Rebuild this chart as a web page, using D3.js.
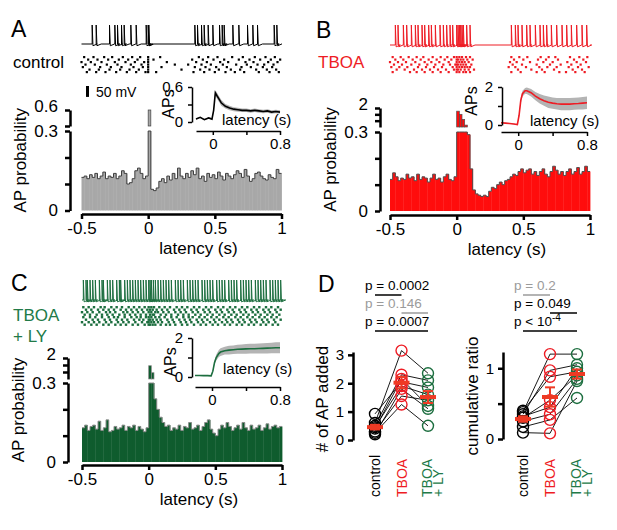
<!DOCTYPE html>
<html>
<head>
<meta charset="utf-8">
<script src="https://cdn.jsdelivr.net/npm/d3@7"></script>
<style>
  body { margin: 0; background: #fff; }
  svg { display: block; }
</style>
</head>
<body>
<svg width="617" height="530"></svg>
<script>
const FONT = '"Liberation Sans", Arial, Helvetica, sans-serif'
const RED = '#ee1c24'
const GREEN = '#1c6e3f'
const GREEN_TEXT = '#227a48'
const GREY_TEXT = '#9b9b9b'

// PSTH, 20 ms bins from -0.5 s to 1 s (AP probability per bin)
const binWidth = 0.02
const histControl = [
  0.125, 0.13, 0.12, 0.135, 0.125, 0.14, 0.12, 0.13, 0.145, 0.12,
  0.13, 0.125, 0.14, 0.12, 0.13, 0.15, 0.14, 0.1, 0.105, 0.12,
  0.15, 0.16, 0.14, 0.12, 0.13, 0.61, 0.08, 0.075, 0.085, 0.11,
  0.12, 0.105, 0.13, 0.115, 0.14, 0.12, 0.16, 0.13, 0.12, 0.14,
  0.125, 0.15, 0.135, 0.16, 0.12, 0.13, 0.11, 0.14, 0.125, 0.135,
  0.12, 0.145, 0.13, 0.115, 0.14, 0.13, 0.12, 0.135, 0.15, 0.14,
  0.125, 0.155, 0.13, 0.11, 0.12, 0.14, 0.145, 0.13, 0.12, 0.115,
  0.135, 0.125, 0.12, 0.155, 0.14]
const histTboa = [
  0.12, 0.145, 0.13, 0.115, 0.125, 0.12, 0.14, 0.125, 0.13, 0.115,
  0.14, 0.12, 0.13, 0.125, 0.11, 0.125, 0.14, 0.12, 0.125, 0.11,
  0.13, 0.14, 0.12, 0.115, 0.13, 1.75, 1.5, 1.1, 0.65, 0.29,
  0.16, 0.08, 0.065, 0.06, 0.055, 0.06, 0.055, 0.075, 0.09, 0.085,
  0.1, 0.11, 0.1, 0.115, 0.12, 0.13, 0.14, 0.135, 0.15, 0.16,
  0.145, 0.155, 0.16, 0.14, 0.15, 0.135, 0.15, 0.16, 0.14, 0.13,
  0.15, 0.17, 0.155, 0.14, 0.15, 0.135, 0.15, 0.16, 0.14, 0.15,
  0.165, 0.14, 0.15, 0.17, 0.15]
const histTboaLy = [
  0.13, 0.14, 0.12, 0.135, 0.14, 0.125, 0.155, 0.12, 0.13, 0.16,
  0.115, 0.12, 0.135, 0.125, 0.13, 0.14, 0.12, 0.135, 0.13, 0.14,
  0.12, 0.135, 0.125, 0.115, 0.13, 1.45, 0.95, 0.24, 0.2, 0.17,
  0.15, 0.135, 0.14, 0.12, 0.13, 0.125, 0.14, 0.12, 0.135, 0.13,
  0.15, 0.125, 0.13, 0.14, 0.12, 0.135, 0.15, 0.16, 0.125, 0.11,
  0.1, 0.125, 0.14, 0.13, 0.15, 0.135, 0.12, 0.13, 0.14, 0.125,
  0.15, 0.13, 0.12, 0.14, 0.125, 0.13, 0.14, 0.12, 0.13, 0.145,
  0.125, 0.135, 0.14, 0.13, 0.135]

// inset: cumulative APs added vs latency (mean and SEM)
const insetTime = [-0.2, -0.15, -0.1, -0.05, -0.01, 0.01, 0.03, 0.05, 0.08, 0.1, 0.15, 0.2,
  0.25, 0.3, 0.35, 0.4, 0.45, 0.5, 0.55, 0.6, 0.65, 0.7, 0.75, 0.8]
const insetControl = [0.05, 0.08, 0.04, 0.07, 0.05, 0.2, 0.5, 0.45, 0.38, 0.33, 0.27, 0.24,
  0.22, 0.21, 0.2, 0.2, 0.19, 0.2, 0.19, 0.18, 0.19, 0.17, 0.18, 0.17]
const insetControlErr = [0.01, 0.01, 0.01, 0.01, 0.01, 0.03, 0.05, 0.05, 0.05, 0.05, 0.04, 0.04,
  0.035, 0.035, 0.03, 0.03, 0.03, 0.03, 0.03, 0.03, 0.03, 0.03, 0.03, 0.03]
const insetTboa = [0.12, 0.1, 0.08, 0.05, 0.02, 0.5, 1.3, 1.65, 1.8, 1.8, 1.7, 1.52,
  1.38, 1.28, 1.2, 1.15, 1.12, 1.1, 1.1, 1.1, 1.12, 1.13, 1.15, 1.17]
const insetTboaErr = [0.02, 0.02, 0.02, 0.02, 0.02, 0.08, 0.15, 0.15, 0.15, 0.17, 0.2, 0.22,
  0.25, 0.27, 0.3, 0.3, 0.3, 0.32, 0.32, 0.32, 0.32, 0.32, 0.33, 0.33]
const insetTboaLy = [0.08, 0.08, 0.07, 0.07, 0.06, 0.3, 0.75, 1.0, 1.2, 1.28, 1.35, 1.38,
  1.4, 1.42, 1.43, 1.44, 1.45, 1.45, 1.46, 1.47, 1.48, 1.49, 1.5, 1.5]
const insetTboaLyErr = [0.02, 0.02, 0.02, 0.02, 0.02, 0.05, 0.1, 0.15, 0.18, 0.2, 0.2, 0.22,
  0.22, 0.23, 0.24, 0.25, 0.25, 0.25, 0.26, 0.26, 0.27, 0.27, 0.28, 0.28]

// example traces: spike times (s)
const spikesControl = [-0.42, -0.39, -0.29, -0.25, -0.23, -0.2, -0.18, -0.13, -0.09, -0.015, 0.0, 0.005,
  0.35, 0.37, 0.4, 0.42, 0.45, 0.485, 0.535, 0.555, 0.57, 0.635, 0.68, 0.745, 0.785, 0.82, 0.945, 0.965]
const spikesTboa = [-0.46, -0.44, -0.4, -0.375, -0.34, -0.31, -0.29, -0.26, -0.24, -0.21, -0.19, -0.16,
  -0.125, -0.1, -0.075, -0.05, -0.03, 0.0, 0.01, 0.02, 0.03, 0.04, 0.05, 0.075, 0.1,
  0.41, 0.44, 0.46, 0.49, 0.525, 0.55, 0.59, 0.625, 0.65, 0.675, 0.71, 0.75, 0.79, 0.825, 0.86, 0.9, 0.94, 0.975]
const spikesTboaLy = [-0.49, -0.47, -0.46, -0.44, -0.42, -0.4, -0.37, -0.35, -0.34, -0.31, -0.29, -0.27,
  -0.24, -0.22, -0.21, -0.18, -0.16, -0.14, -0.12, -0.1, -0.08, -0.06, -0.04, -0.02, 0.0, 0.01,
  0.02, 0.035, 0.05, 0.07, 0.09, 0.11, 0.13, 0.15, 0.17, 0.2, 0.22, 0.24, 0.26, 0.29, 0.31, 0.33,
  0.35, 0.37, 0.4, 0.42, 0.44, 0.46, 0.48, 0.51, 0.53, 0.55, 0.57, 0.6, 0.62, 0.64, 0.66, 0.69,
  0.71, 0.73, 0.75, 0.77, 0.8, 0.82, 0.84, 0.86, 0.88, 0.91, 0.93, 0.95, 0.97, 0.99]

// rasters: spike times per trial (s)
const rasterControl = [
  [-0.48, -0.41, -0.33, -0.27, -0.19, -0.12, -0.06, 0.0, 0.09, 0.38, 0.45, 0.52, 0.63, 0.71, 0.8, 0.88, 0.95],
  [-0.45, -0.38, -0.3, -0.22, -0.15, -0.08, 0.0, 0.04, 0.33, 0.41, 0.49, 0.57, 0.68, 0.76, 0.84, 0.92, 0.99],
  [-0.5, -0.43, -0.35, -0.25, -0.17, -0.1, -0.03, 0.0, 0.14, 0.36, 0.44, 0.54, 0.6, 0.73, 0.79, 0.9, 0.97],
  [-0.47, -0.4, -0.31, -0.23, -0.13, -0.05, 0.0, 0.2, 0.3, 0.4, 0.47, 0.56, 0.66, 0.74, 0.82, 0.87, 0.94],
  [-0.49, -0.36, -0.28, -0.2, -0.11, -0.04, 0.0, 0.1, 0.35, 0.43, 0.51, 0.59, 0.7, 0.77, 0.86, 0.93],
  [-0.44, -0.37, -0.29, -0.21, -0.14, -0.07, 0.0, 0.25, 0.39, 0.46, 0.53, 0.62, 0.69, 0.81, 0.89, 0.96],
  [-0.46, -0.39, -0.32, -0.24, -0.16, -0.09, -0.02, 0.0, 0.06, 0.34, 0.42, 0.5, 0.58, 0.65, 0.72, 0.83, 0.91, 0.98]]
const rasterTboa = [
  [-0.48, -0.42, -0.36, -0.3, -0.25, -0.18, -0.12, -0.07, -0.02, 0.0, 0.02, 0.04, 0.07, 0.1, 0.41, 0.47, 0.53, 0.63, 0.69, 0.74, 0.85, 0.92, 0.98],
  [-0.46, -0.4, -0.33, -0.27, -0.21, -0.15, -0.09, -0.04, 0.0, 0.01, 0.03, 0.05, 0.08, 0.12, 0.43, 0.5, 0.61, 0.67, 0.76, 0.88, 0.95],
  [-0.5, -0.44, -0.38, -0.31, -0.24, -0.19, -0.13, -0.06, 0.0, 0.02, 0.04, 0.06, 0.09, 0.4, 0.45, 0.55, 0.65, 0.72, 0.83, 0.9, 0.97],
  [-0.47, -0.41, -0.34, -0.28, -0.22, -0.16, -0.1, -0.05, -0.01, 0.0, 0.01, 0.03, 0.05, 0.07, 0.11, 0.42, 0.49, 0.6, 0.7, 0.78, 0.86, 0.93],
  [-0.49, -0.43, -0.37, -0.29, -0.23, -0.17, -0.11, -0.03, 0.0, 0.02, 0.04, 0.06, 0.08, 0.1, 0.39, 0.44, 0.52, 0.62, 0.68, 0.75, 0.84, 0.91, 0.99],
  [-0.45, -0.39, -0.32, -0.26, -0.2, -0.14, -0.08, -0.02, 0.0, 0.01, 0.03, 0.06, 0.09, 0.13, 0.46, 0.56, 0.64, 0.73, 0.87, 0.94],
  [-0.48, -0.35, -0.3, -0.24, -0.18, -0.12, -0.06, 0.0, 0.02, 0.05, 0.07, 0.1, 0.41, 0.48, 0.6, 0.66, 0.77, 0.82, 0.89, 0.96]]
const rasterTboaLy = [
  [-0.49, -0.45, -0.41, -0.36, -0.33, -0.28, -0.24, -0.2, -0.15, -0.11, -0.07, -0.03, 0, 0.02, 0.04, 0.08, 0.12, 0.16, 0.21, 0.25, 0.29, 0.34, 0.38, 0.43, 0.47, 0.52, 0.56, 0.61, 0.65, 0.7, 0.74, 0.79, 0.83, 0.88, 0.92, 0.97],
  [-0.47, -0.43, -0.38, -0.34, -0.3, -0.26, -0.21, -0.17, -0.13, -0.09, -0.05, -0.01, 0.01, 0.03, 0.06, 0.1, 0.14, 0.19, 0.23, 0.27, 0.32, 0.36, 0.41, 0.45, 0.5, 0.54, 0.59, 0.63, 0.68, 0.72, 0.77, 0.81, 0.86, 0.9, 0.95, 0.99],
  [-0.5, -0.46, -0.42, -0.37, -0.32, -0.29, -0.25, -0.19, -0.16, -0.12, -0.08, -0.04, 0, 0.02, 0.05, 0.07, 0.11, 0.15, 0.2, 0.24, 0.28, 0.33, 0.37, 0.42, 0.46, 0.51, 0.55, 0.6, 0.64, 0.69, 0.73, 0.78, 0.82, 0.87, 0.91, 0.96],
  [-0.48, -0.44, -0.39, -0.35, -0.31, -0.27, -0.22, -0.18, -0.14, -0.1, -0.06, -0.02, 0.01, 0.03, 0.04, 0.09, 0.13, 0.17, 0.22, 0.26, 0.3, 0.35, 0.39, 0.44, 0.48, 0.53, 0.57, 0.62, 0.66, 0.71, 0.75, 0.8, 0.84, 0.89, 0.93, 0.98],
  [-0.49, -0.44, -0.4, -0.35, -0.3, -0.26, -0.23, -0.18, -0.13, -0.09, -0.06, -0.02, 0, 0.02, 0.05, 0.08, 0.12, 0.17, 0.21, 0.26, 0.3, 0.33, 0.38, 0.42, 0.47, 0.51, 0.56, 0.6, 0.65, 0.69, 0.74, 0.78, 0.83, 0.87, 0.92, 0.96],
  [-0.47, -0.42, -0.38, -0.33, -0.29, -0.24, -0.2, -0.16, -0.11, -0.07, -0.04, 0, 0.01, 0.03, 0.06, 0.09, 0.14, 0.18, 0.23, 0.27, 0.31, 0.36, 0.4, 0.44, 0.49, 0.53, 0.58, 0.62, 0.67, 0.71, 0.76, 0.8, 0.85, 0.89, 0.94, 0.99],
  [-0.5, -0.45, -0.41, -0.37, -0.32, -0.28, -0.23, -0.19, -0.15, -0.1, -0.05, -0.01, 0, 0.02, 0.04, 0.07, 0.1, 0.15, 0.19, 0.24, 0.28, 0.32, 0.37, 0.41, 0.46, 0.5, 0.55, 0.59, 0.63, 0.68, 0.72, 0.77, 0.81, 0.86, 0.9, 0.95],
  [-0.48, -0.43, -0.39, -0.34, -0.3, -0.25, -0.21, -0.17, -0.12, -0.08, -0.03, 0, 0.01, 0.03, 0.05, 0.09, 0.13, 0.16, 0.2, 0.25, 0.29, 0.34, 0.39, 0.43, 0.48, 0.52, 0.57, 0.61, 0.66, 0.7, 0.75, 0.79, 0.84, 0.88, 0.93, 0.97]]

// panel D: one value per cell, in the same cell order for each condition
const conditions = ['control', 'TBOA', 'TBOA + LY']
const apAddedControl = [0.92, 0.6, 0.5, 0.45, 0.4, 0.3, 0.25, 0.2]
const apAddedTboa = [2.05, 3.15, 2.3, 1.9, 2.15, 1.55, 1.25, 1.8]
const apAddedTboaLy = [1.85, 2.35, 2.1, 1.6, 1.2, 1.4, 0.5, 1.1]
const ratioControl = [0.38, 0.35, 0.4, 0.3, 0.32, 0.25, 0.17, 0.09]
const ratioTboa = [1.2, 0.97, 0.88, 0.55, 0.45, 0.35, 0.27, 0.08]
const ratioTboaLy = [1.2, 1.05, 0.95, 0.9, 1.0, 0.85, 0.58, 0.82]
const pApAdded = [['p = 0.0002', 0, 1, false], ['p = 0.146', 1, 2, true], ['p = 0.0007', 0, 2, false]]
const pRatio = [['p = 0.2', 0, 1, true], ['p = 0.049', 1, 2, false], ['p < 10', 0, 2, false, '-4']]

const svg = d3.select('svg').attr('font-family', FONT)

function styleAxis(sel, sw, fs) {
  sel.attr('font-size', fs).attr('font-family', FONT)
  sel.select('.domain').attr('stroke-width', sw)
  sel.selectAll('.tick line').attr('stroke-width', sw)
  sel.selectAll('.tick text').attr('fill', '#000')
}

function text(x, y, str, size, color, anchor) {
  return svg.append('text').attr('x', x).attr('y', y).text(str)
    .attr('font-size', size).attr('fill', color || '#000').attr('text-anchor', anchor || 'start')
}

function vText(x, y, str, size, color, anchor) {
  return svg.append('text').attr('transform', `translate(${x},${y}) rotate(-90)`).text(str)
    .attr('font-size', size).attr('fill', color || '#000').attr('text-anchor', anchor || 'middle')
}

// histogram with a broken y axis
function drawHist(h) {
  const g = svg.append('g')
  const x = d3.scaleLinear().domain([-0.5, 1]).range([h.x0, h.x1])
  const yLo = d3.scaleLinear().domain([0, 0.3]).range([h.base, h.brk])
  const yHi = d3.scaleLinear().domain(h.hiDomain).range(h.hiRange).clamp(true)
  const bins = h.values.map((v, i) => ({ t: -0.5 + i * binWidth, v }))
  const bw = x(binWidth) - x(0)
  const lo = v => yLo(Math.min(v, 0.3))

  g.selectAll('.lo').data(bins).join('rect').attr('class', 'lo')
    .attr('x', d => x(d.t)).attr('width', bw + 0.4)
    .attr('y', d => lo(d.v)).attr('height', d => h.base - lo(d.v))
    .attr('fill', h.fill)
  g.append('path')
    .datum(bins.concat([{ t: 1, v: bins[bins.length - 1].v }]))
    .attr('d', d3.line().curve(d3.curveStepAfter).x(d => x(d.t)).y(d => lo(d.v)))
    .attr('fill', 'none').attr('stroke', h.edge).attr('stroke-width', 1)
  g.selectAll('.hi').data(bins.filter(d => d.v > 0.3)).join('rect').attr('class', 'hi')
    .attr('x', d => x(d.t)).attr('width', bw)
    .attr('y', d => yHi(d.v)).attr('height', d => h.hiRange[0] - yHi(d.v))
    .attr('fill', h.fill).attr('stroke', h.edge).attr('stroke-width', 0.7)

  g.append('g').attr('transform', `translate(0,${h.axisY})`)
    .call(d3.axisBottom(x).tickValues([-0.5, 0, 0.5, 1]).tickFormat(d => String(d))
      .tickSize(5).tickSizeOuter(0).tickPadding(3))
    .call(styleAxis, 2.5, 17)
  g.append('g').attr('transform', `translate(${h.axisX},0)`)
    .call(d3.axisLeft(yLo).tickValues([0, 0.1, 0.2, 0.3])
      .tickFormat(d => d === 0 ? '0' : d === 0.3 ? '0.3' : '')
      .tickSize(5).tickSizeOuter(0).tickPadding(7))
    .call(styleAxis, 2.5, 17)
  g.append('g').attr('transform', `translate(${h.axisX},0)`)
    .call(d3.axisLeft(yHi).tickValues(h.hiTicks)
      .tickFormat(d => d === h.hiDomain[1] ? String(d) : '')
      .tickSize(5).tickSizeOuter(0).tickPadding(7))
    .call(styleAxis, 2.5, 17)
    .selectAll('.tick text').attr('dy', '0.1em')

  vText(h.axisX - 44, (h.base + h.hiRange[1]) / 2, 'AP probability', 17)
  text(h.x0 + 117, h.axisY + 40, 'latency (s)', 17, '#000', 'middle')
  return x
}

function drawInset(s) {
  const g = svg.append('g')
  const x = d3.scaleLinear().domain([-0.2, 0.8]).range(s.xRange)
  const y = d3.scaleLinear().domain(s.yDomain).range(s.yRange)
  const pts = insetTime.map((t, i) => ({ t, m: s.mean[i], e: s.err[i] }))
  g.append('path').datum(pts)
    .attr('d', d3.area().x(d => x(d.t)).y0(d => y(d.m - d.e)).y1(d => y(d.m + d.e)))
    .attr('fill', '#b4b4b4')
  g.append('path').datum(pts)
    .attr('d', d3.line().x(d => x(d.t)).y(d => y(d.m)))
    .attr('fill', 'none').attr('stroke', s.color).attr('stroke-width', 1.6)

  g.append('g').attr('transform', `translate(${s.axisX},0)`)
    .call(d3.axisLeft(y).tickValues(s.yTicks)
      .tickFormat(d => d === s.yTicks[1] ? '' : String(d))
      .tickSize(4).tickSizeOuter(0).tickPadding(5))
    .call(styleAxis, 1.5, 15)
  g.append('g').attr('transform', `translate(0,${s.axisY})`)
    .call(d3.axisBottom(x).tickValues([0, 0.4, 0.8])
      .tickFormat(d => d === 0.4 ? '' : String(d))
      .tickSize(4).tickSizeOuter(0).tickPadding(3))
    .call(styleAxis, 1.5, 15)

  vText(s.apsX, s.apsY, 'APs', 16)
  text(s.latX, s.latY, 'latency (s)', 15)
}

// spikes drawn from a resting level, with a short after-hyperpolarisation
function drawTrace(x, spikes, v, color) {
  const rest = v(-62), peak = v(25), ahp = v(-70)
  let d = `M${x(-0.5)},${rest}`
  spikes.forEach(t => {
    const px = x(t)
    d += `L${px},${rest}L${px},${peak}L${px + 0.8},${ahp}L${px + 5},${rest}`
  })
  d += `L${x(1)},${rest}`
  svg.append('path').attr('d', d).attr('fill', 'none')
    .attr('stroke', color).attr('stroke-width', 1).attr('stroke-linejoin', 'bevel')
}

function drawRaster(x, rows, top, step, size, color) {
  const dots = rows.flatMap((r, i) => r.map(t => ({ t, i })))
  svg.append('g').selectAll('rect').data(dots).join('rect')
    .attr('x', d => x(d.t) - size / 2).attr('y', d => top + d.i * step)
    .attr('width', size).attr('height', size).attr('fill', color)
}

function drawScatter(p) {
  const g = svg.append('g')
  const x = d3.scalePoint().domain(conditions).range(p.xRange)
  const y = d3.scaleLinear().domain(p.yDomain).range(p.yRange)
  const colors = ['#000', RED, GREEN]
  const cells = p.data[0].map((_, i) => p.data.map((vals, j) => ({ c: conditions[j], v: vals[i] })))

  g.selectAll('.pair').data(cells).join('path')
    .attr('d', d3.line().x(e => x(e.c)).y(e => y(e.v)))
    .attr('fill', 'none').attr('stroke', '#000').attr('stroke-width', 0.9)
  p.data.forEach((vals, j) => {
    g.append('g').selectAll('circle').data(vals).join('circle')
      .attr('cx', x(conditions[j])).attr('cy', d => y(d)).attr('r', 5.5)
      .attr('fill', 'none').attr('stroke', colors[j]).attr('stroke-width', 1.4)
  })
  p.data.forEach((vals, j) => {
    const m = d3.mean(vals), se = d3.deviation(vals) / Math.sqrt(vals.length), cx = x(conditions[j])
    g.append('line').attr('x1', cx).attr('x2', cx).attr('y1', y(m - se)).attr('y2', y(m + se))
      .attr('stroke', '#ee3a24').attr('stroke-width', 2)
    ;[m - se, m + se].forEach(v => g.append('line').attr('x1', cx - 5).attr('x2', cx + 5)
      .attr('y1', y(v)).attr('y2', y(v)).attr('stroke', '#ee3a24').attr('stroke-width', 2))
    g.append('rect').attr('x', cx - 8).attr('y', y(m) - 2).attr('width', 16).attr('height', 4)
      .attr('fill', '#ee3a24')
  })

  g.append('g').attr('transform', `translate(${p.axisX},0)`)
    .call(d3.axisLeft(y).tickValues(p.ticks).tickFormat(d => p.labels.includes(d) ? String(d) : '')
      .tickSize(5).tickSizeOuter(0).tickPadding(4))
    .call(styleAxis, 2.5, 15)
  vText(p.axisX - 25, p.labelY, p.label, 17)

  // condition labels, rotated
  const lines = [['control'], ['TBOA'], ['TBOA', '+ LY']]
  lines.forEach((ls, j) => ls.forEach((s, k) => {
    const bx = x(conditions[j]) + (ls.length > 1 ? 4 + k * 11 : 5)
    vText(bx, 497, s, 14, [ '#000', RED, GREEN_TEXT ][j], 'start')
  }))

  // significance bars
  p.pvals.forEach(([label, a, b, grey, sup], k) => {
    const col = grey ? GREY_TEXT : '#000'
    const t = text(p.pX, 290 + k * 18, label, 13.5, col)
    if (sup) t.append('tspan').attr('dy', -5).attr('font-size', 10).text(sup)
    g.append('line').attr('x1', x(conditions[a])).attr('x2', x(conditions[b]))
      .attr('y1', 295 + k * 18).attr('y2', 295 + k * 18)
      .attr('stroke', col).attr('stroke-width', 1.5)
  })
}

// ---- panel A
const xA = drawHist({ values: histControl, x0: 81.5, x1: 281.5, base: 210.5, brk: 131,
  hiDomain: [0.3, 0.6], hiRange: [126, 110], hiTicks: [0.3, 0.6], axisX: 70, axisY: 214,
  fill: '#a8a8a8', edge: '#3f3f3f' })
drawInset({ mean: insetControl, err: insetControlErr, color: '#000', xRange: [196, 280], yDomain: [0, 0.6],
  yRange: [122, 87], yTicks: [0, 0.3, 0.6], axisX: 192, axisY: 131, apsX: 174, apsY: 104, latX: 222, latY: 125 })
const vA = d3.scaleLinear().domain([-62, 25]).range([44, 25])
drawTrace(xA, spikesControl, vA, '#000')
drawRaster(xA, rasterControl, 56, 2.5, 2.2, '#000')
svg.append('rect').attr('x', 86).attr('y', 86).attr('width', 3).attr('height', vA(-62) - vA(-12)).attr('fill', '#000')
text(96, 97, '50 mV', 14)
text(11, 37, 'A', 23)
text(13, 68, 'control', 17)

// ---- panel B
const xB = drawHist({ values: histTboa, x0: 390, x1: 590, base: 211, brk: 132,
  hiDomain: [0.5, 2], hiRange: [127, 108], hiTicks: [1, 1.5, 2], axisX: 380, axisY: 215,
  fill: '#ff0d0d', edge: '#505050' })
drawInset({ mean: insetTboa, err: insetTboaErr, color: RED, xRange: [501, 587], yDomain: [0, 2],
  yRange: [125, 87], yTicks: [0, 1, 2], axisX: 502, axisY: 132, apsX: 477, apsY: 101, latX: 530, latY: 126 })
const vB = d3.scaleLinear().domain([-62, 25]).range([45, 25])
drawTrace(xB, spikesTboa, vB, RED)
drawRaster(xB, rasterTboa, 56, 2.5, 2.2, RED)
text(316, 38, 'B', 23)
text(318, 68, 'TBOA', 17, RED)

// ---- panel C
const xC = drawHist({ values: histTboaLy, x0: 82, x1: 282, base: 462, brk: 383,
  hiDomain: [0.5, 2], hiRange: [379, 358], hiTicks: [1, 1.5, 2], axisX: 68, axisY: 465,
  fill: '#0f5c2e', edge: '#8a8a8a' })
drawInset({ mean: insetTboaLy, err: insetTboaLyErr, color: GREEN, xRange: [195, 280], yDomain: [0, 2],
  yRange: [377, 338], yTicks: [0, 1, 2], axisX: 192, axisY: 387, apsX: 176, apsY: 362, latX: 223, latY: 374 })
const vC = d3.scaleLinear().domain([-62, 25]).range([300, 280])
drawTrace(xC, spikesTboaLy, vC, GREEN)
drawRaster(xC, rasterTboaLy, 306, 2.5, 2.4, GREEN)
text(11, 291, 'C', 23)
text(13, 321, 'TBOA', 17, GREEN_TEXT)
text(13, 342, '+ LY', 17, GREEN_TEXT)

// ---- panel D
text(318, 292, 'D', 23)
drawScatter({ data: [apAddedControl, apAddedTboa, apAddedTboaLy], xRange: [375, 428],
  yDomain: [0, 3.1], yRange: [440, 352], ticks: [0, 1, 2, 3], labels: [0, 1, 2, 3], axisX: 353,
  label: '# of AP added', labelY: 399, pvals: pApAdded, pX: 365 })
drawScatter({ data: [ratioControl, ratioTboa, ratioTboaLy], xRange: [523, 577],
  yDomain: [0, 1.23], yRange: [439, 352], ticks: [0, 0.5, 1], labels: [0, 1], axisX: 503,
  label: 'cumulative ratio', labelY: 396, pvals: pRatio, pX: 514 })
</script>
</body>
</html>
